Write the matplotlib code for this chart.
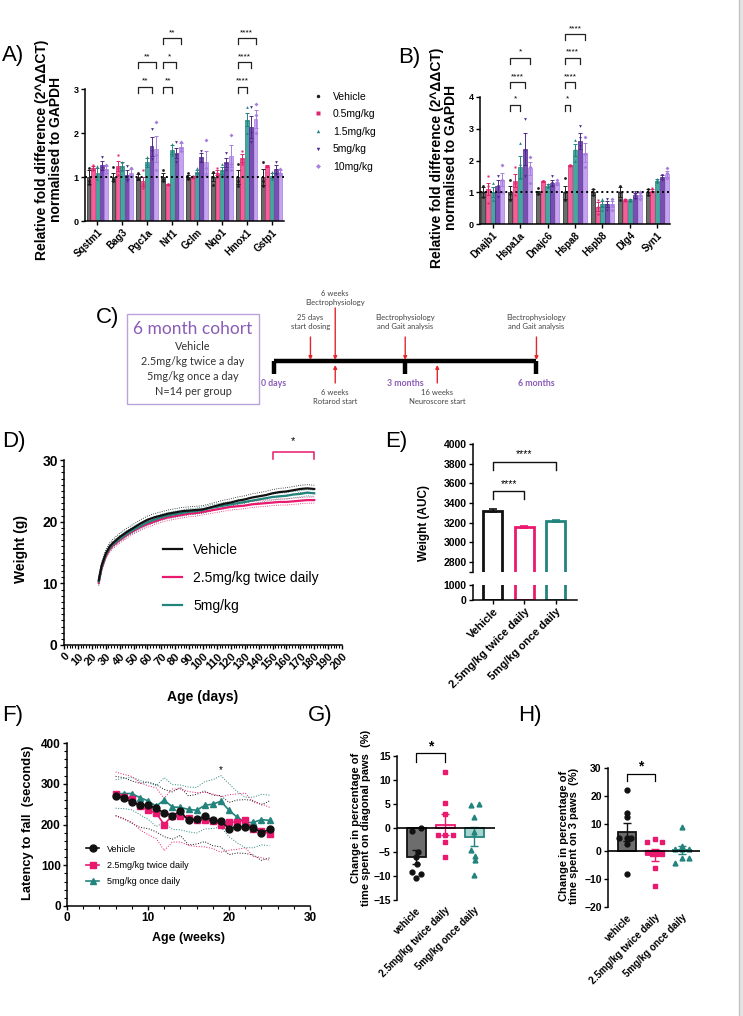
import numpy as np
import matplotlib
matplotlib.use('Agg')
import matplotlib.pyplot as plt
from matplotlib.lines import Line2D
from matplotlib.patches import Rectangle
from matplotlib.ticker import MultipleLocator

plt.rcParams['font.family'] = ['Liberation Sans', 'DejaVu Sans']
plt.rcParams['axes.linewidth'] = 1.1

# ---------------- data ----------------
doses = ['Vehicle', '0.5mg/kg', '1.5mg/kg', '5mg/kg', '10mg/kg']

genes_a = ['Sqstm1', 'Bag3', 'Pgc1a', 'Nrf1', 'Gclm', 'Nqo1', 'Hmox1', 'Gstp1']
a_means = [
    [1.0, 1.0, 1.0, 1.0, 1.0, 1.0, 1.0, 1.0],
    [1.21, 1.25, 0.9, 0.83, 1.0, 1.1, 1.43, 1.25],
    [1.1, 1.25, 1.33, 1.62, 1.12, 1.15, 2.3, 1.03],
    [1.27, 1.05, 1.7, 1.55, 1.45, 1.33, 2.13, 1.18],
    [1.18, 1.1, 1.63, 1.68, 1.35, 1.47, 2.32, 1.1],
]
a_sems = [
    [0.15, 0.1, 0.06, 0.08, 0.05, 0.1, 0.15, 0.18],
    [0.05, 0.12, 0.1, 0.02, 0.02, 0.05, 0.1, 0.02],
    [0.1, 0.1, 0.1, 0.1, 0.04, 0.08, 0.15, 0.06],
    [0.1, 0.1, 0.22, 0.12, 0.1, 0.1, 0.25, 0.1],
    [0.08, 0.08, 0.3, 0.1, 0.25, 0.25, 0.2, 0.05],
]
a_points = [
    [[1.2, 0.9, 0.85], [1.22, 0.95, 0.9], [1.1, 0.95, 0.95], [1.15, 0.95, 0.9],
     [1.1, 0.98, 0.95], [1.12, 1.0, 0.82], [1.3, 0.9, 0.8], [1.35, 0.9, 0.8]],
    [[1.27, 1.2, 1.15], [1.5, 1.2, 1.05], [1.15, 0.85, 0.75], [0.85, 0.84, 0.82],
     [1.02, 1.0, 0.98], [1.2, 1.1, 1.0], [1.6, 1.4, 1.3], [1.26, 1.25, 1.24]],
    [[1.25, 1.05, 0.95], [1.35, 1.25, 1.15], [1.45, 1.3, 1.25], [1.75, 1.6, 1.5],
     [1.2, 1.1, 1.05], [1.3, 1.15, 1.05], [2.6, 2.3, 2.0], [1.12, 1.0, 0.95]],
    [[1.45, 1.2, 1.15], [1.25, 1.0, 0.9], [2.1, 1.6, 1.4], [1.8, 1.5, 1.35],
     [1.6, 1.4, 1.35], [1.55, 1.3, 1.15], [2.6, 2.0, 1.8], [1.35, 1.15, 1.05]],
    [[1.28, 1.15, 1.1], [1.2, 1.05, 1.05], [2.25, 1.5, 1.15], [1.8, 1.65, 1.6],
     [1.85, 1.2, 1.05], [1.95, 1.3, 1.15], [2.65, 2.4, 2.0], [1.18, 1.1, 1.05]],
]
# (gene index, dose index, bracket level, label)
a_brackets = [(2, 3, 0, '**'), (2, 4, 1, '**'),
              (3, 2, 0, '**'), (3, 3, 1, '*'), (3, 4, 2, '**'),
              (6, 2, 0, '****'), (6, 3, 1, '****'), (6, 4, 2, '****')]
a_levels = [3.05, 3.61, 4.16]

genes_b = ['Dnajb1', 'Hspa1a', 'Dnajc6', 'Hspa8', 'Hspb8', 'Dlg4', 'Syn1']
b_means = [
    [1.0, 1.0, 1.0, 1.0, 1.0, 1.0, 1.0],
    [1.1, 1.37, 1.35, 1.85, 0.55, 0.75, 1.05],
    [1.0, 1.8, 1.2, 2.33, 0.63, 0.75, 1.37],
    [1.2, 2.37, 1.3, 2.62, 0.62, 0.9, 1.47],
    [1.4, 1.75, 1.28, 2.25, 0.62, 0.9, 1.57],
]
b_sems = [
    [0.15, 0.2, 0.05, 0.2, 0.1, 0.15, 0.1],
    [0.2, 0.2, 0.02, 0.02, 0.15, 0.03, 0.05],
    [0.15, 0.35, 0.05, 0.2, 0.1, 0.03, 0.05],
    [0.2, 0.5, 0.1, 0.25, 0.1, 0.07, 0.06],
    [0.2, 0.2, 0.05, 0.3, 0.1, 0.08, 0.1],
]
b_points = [
    [[1.2, 1.0, 0.85], [1.4, 0.95, 0.75], [1.12, 1.0, 0.95], [1.45, 1.0, 0.75],
     [1.1, 1.0, 0.9], [1.2, 1.0, 0.75], [1.1, 1.0, 0.9]],
    [[1.5, 1.2, 0.65], [1.8, 1.3, 0.9], [1.36, 1.35, 1.34], [1.87, 1.85, 1.83],
     [0.75, 0.55, 0.3], [0.78, 0.75, 0.72], [1.12, 1.05, 1.0]],
    [[1.3, 1.0, 0.75], [2.55, 1.9, 1.45], [1.25, 1.2, 1.15], [2.65, 2.35, 2.0],
     [0.8, 0.6, 0.45], [0.8, 0.75, 0.72], [1.42, 1.37, 1.32]],
    [[1.5, 1.2, 0.85], [3.3, 2.3, 1.5], [1.5, 1.3, 1.2], [3.1, 2.7, 2.45],
     [0.8, 0.6, 0.45], [1.0, 0.9, 0.8], [1.55, 1.45, 1.4]],
    [[1.85, 1.4, 1.0], [2.1, 1.8, 1.3], [1.38, 1.3, 1.25], [2.75, 2.2, 1.8],
     [0.8, 0.6, 0.45], [1.0, 0.9, 0.8], [1.75, 1.6, 1.45]],
]
b_brackets = [(1, 2, 0, '*'), (1, 3, 1, '****'), (1, 4, 2, '*'),
              (3, 1, 0, '*'), (3, 2, 1, '****'), (3, 3, 2, '****'), (3, 4, 3, '****')]
b_levels = [3.75, 4.47, 5.23, 5.98]

# C timeline (days)
milestones = [0, 90, 180]
milestone_labels = ['0 days', '3 months', '6 months']
events_above = [(25, '25 days\nstart dosing', 'short'), (42, '6 weeks\nElectrophysiology', 'long'),
                (90, 'Electrophysiology\nand Gait analysis', 'short'),
                (180, 'Electrophysiology\nand Gait analysis', 'short')]
events_below = [(42, '6 weeks\nRotarod start'), (112, '16 weeks\nNeuroscore start')]
cohort_lines = ['Vehicle', '2.5mg/kg twice a day', '5mg/kg once a day', 'N=14 per group']

# D body weight
days = [25, 27, 30, 33, 35, 40, 45, 50, 55, 60, 65, 70, 75, 80, 85, 90, 95, 100, 105,
        110, 115, 120, 125, 130, 135, 140, 145, 150, 155, 160, 165, 170, 175, 180]
weight_veh = [10.5, 12.8, 14.8, 16.0, 16.5, 17.5, 18.3, 19.0, 19.7, 20.3, 20.7, 21.0, 21.3, 21.5,
              21.7, 21.8, 21.9, 22.0, 22.3, 22.6, 22.9, 23.1, 23.4, 23.6, 23.9, 24.1, 24.3, 24.6,
              24.8, 24.9, 25.1, 25.3, 25.4, 25.3]
weight_25 = [10.1, 12.4, 14.4, 15.6, 16.1, 17.0, 17.8, 18.5, 19.1, 19.6, 20.0, 20.4, 20.7, 20.9,
             21.1, 21.3, 21.4, 21.6, 21.8, 22.0, 22.2, 22.4, 22.5, 22.6, 22.8, 22.9, 23.0, 23.1,
             23.2, 23.2, 23.3, 23.4, 23.5, 23.5]
weight_5 = [10.3, 12.6, 14.6, 15.8, 16.3, 17.2, 18.0, 18.7, 19.3, 19.9, 20.3, 20.7, 21.0, 21.2,
            21.4, 21.6, 21.7, 21.9, 22.2, 22.4, 22.6, 22.8, 23.0, 23.2, 23.4, 23.6, 23.8, 24.0,
            24.1, 24.2, 24.4, 24.5, 24.7, 24.6]
weight_sem = [0.6, 0.5, 0.5]
weight_labels = ['Vehicle', '2.5mg/kg twice daily', '5mg/kg']

# E AUC
groups = ['Vehicle', '2.5mg/kg twice daily', '5mg/kg once daily']
auc = [3320, 3155, 3215]
auc_sem = [15, 10, 10]

# F rotarod
weeks = list(range(6, 26))
rot_veh = [270, 265, 255, 247, 247, 240, 228, 222, 232, 210, 213, 220, 210, 208, 190, 195, 195, 192, 180, 188]
rot_25 = [275, 268, 262, 245, 235, 228, 200, 222, 222, 215, 212, 212, 208, 200, 205, 207, 210, 188, 185, 177]
rot_5 = [275, 276, 276, 266, 258, 245, 260, 243, 242, 237, 235, 247, 250, 257, 235, 218, 205, 205, 212, 210]
sd_veh = [48, 50, 52, 54, 57, 58, 58, 58, 59, 60, 61, 62, 62, 63, 64, 65, 66, 67, 68, 70]
sd_25 = [54, 55, 56, 58, 60, 62, 64, 65, 65, 66, 66, 67, 67, 68, 68, 68, 67, 66, 66, 65]
sd_5 = [35, 37, 40, 42, 45, 50, 55, 55, 55, 55, 56, 58, 60, 63, 65, 63, 62, 62, 62, 62]
rot_labels = ['Vehicle', '2.5mg/kg twice daily', '5mg/kg once daily']

# G diagonal paws
paw_groups = ['vehicle', '2.5mg/kg twice daily', '5mg/kg once daily']
diag_mean = [-6.0, 0.7, -1.8]
diag_sem = [1.4, 2.2, 2.0]
diag_y = [[-0.55, 0.1, -4.9, -6.1, -7.5, -9.1, -9.6, -10.5],
          [11.7, 5.2, 2.9, -1.4, -1.4, -1.5, -3.0, -6.1],
          [4.7, 4.9, 2.3, -0.8, -4.6, -5.8, -6.7, -9.8]]
diag_dx = [[-0.15, 0.16, 0.05, 0.0, 0.02, -0.15, 0.16, 0.0],
           [0.0, 0.0, 0.0, -0.26, 0.0, 0.28, 0.0, 0.0],
           [-0.12, 0.18, 0.0, 0.0, -0.12, 0.03, 0.03, 0.0]]

# H three paws
three_mean = [7.1, -1.3, 0.6]
three_sem = [3.2, 2.1, 1.4]
three_y = [[22.2, 13.7, 12.3, 4.7, 4.8, 4.7, 2.7, -8.2],
           [3.5, 4.3, 3.3, -0.1, -1.0, -1.0, -1.0, -5.9, -12.4],
           [8.9, 2.0, 0.8, 0.8, 0.8, -4.0, -2.5, -2.5]]
three_dx = [[0.0, 0.0, 0.0, -0.3, 0.0, 0.16, 0.0, 0.0],
            [-0.27, 0.0, 0.26, -0.27, -0.09, 0.1, 0.27, 0.0, 0.0],
            [0.0, 0.0, -0.24, 0.0, 0.24, -0.24, 0.0, 0.24]]

# ---------------- styles ----------------
dose_fill = ['#6b6b6b', '#f2609a', '#45a8a0', '#7a4cb4', '#c6a3ef']
dose_edge = ['#1e1e1e', '#e0236d', '#23847d', '#4e2a8a', '#a77ee0']
dose_mark = ['o', 's', '^', 'v', 'D']
grp_col = ['#111111', '#e8196e', '#23847d']
grp_fill = ['#6d6d6d', '#fbd3e2', '#a7d3cf']
grp_mark = ['o', 's', '^']
purple = '#8a5cb7'
red = '#e3262e'
step = 0.178

W, H = 743, 1016
fig = plt.figure(figsize=(W / 100, H / 100), dpi=100)


def add_ax(l, t, r, b):
    return fig.add_axes([l / W, 1 - b / H, (r - l) / W, (b - t) / H])


def ftext(x, y, s, **kw):
    fig.text(x / W, 1 - y / H, s, **kw)


def clean(ax, fs=7, bottom=True):
    ax.spines['top'].set_visible(False)
    ax.spines['right'].set_visible(False)
    if not bottom:
        ax.spines['bottom'].set_visible(False)
    ax.tick_params(direction='out', length=3, width=1, labelsize=fs, pad=1.5)
    for lbl in ax.get_xticklabels() + ax.get_yticklabels():
        lbl.set_fontweight('bold')


# overlay for the schematic and page edge
ov = fig.add_axes([0, 0, 1, 1])
ov.set_xlim(0, W)
ov.set_ylim(H, 0)
ov.axis('off')
ov.add_patch(Rectangle((739, 0), 4, H, color='#e4e4e4', lw=0))
ov.plot([739, 739], [0, H], color='#c4c4c4', lw=1)


# ---------------- A / B ----------------
def qpcr(ax, genes, means, sems, pts, brackets, levels, leg):
    for k in range(5):
        xs = np.arange(len(genes)) + (k - 2) * step
        ax.bar(xs, means[k], width=0.15, color=dose_fill[k], edgecolor=dose_edge[k],
               linewidth=0.5, zorder=2)
        ax.errorbar(xs, means[k], yerr=sems[k], fmt='none', ecolor=dose_edge[k],
                    elinewidth=0.7, capsize=1.2, capthick=0.7, zorder=3)
        for gi, vals in enumerate(pts[k]):
            ax.plot([xs[gi]] * len(vals), vals, ls='none', marker=dose_mark[k], ms=2,
                    mfc=dose_edge[k], mec='none', zorder=4)
    ax.axhline(1, color='black', ls=(0, (1, 1.6)), lw=1.4, zorder=5)
    for gi, k, lev, lab in brackets:
        x0 = gi - 2 * step
        x1 = gi + (k - 2) * step
        y = levels[lev]
        ax.plot([x0, x0, x1, x1], [y - leg, y, y, y - leg], color='#222222', lw=0.9,
                clip_on=False)
        ax.text((x0 + x1) / 2, y + leg * 0.35, lab, ha='center', va='bottom', fontsize=6,
                clip_on=False)
    ax.set_xticks(np.arange(len(genes)))
    ax.set_xticklabels(genes, rotation=45, ha='right', rotation_mode='anchor')
    clean(ax, fs=6.5)
    for lbl in ax.get_xticklabels():
        lbl.set_fontsize(7)


ax_a = add_ax(85, 89, 284, 221)
ax_a.set_xlim(-0.5, 7.5)
ax_a.set_ylim(0, 3)
ax_a.set_yticks([0, 1, 2, 3])
qpcr(ax_a, genes_a, a_means, a_sems, a_points, a_brackets, a_levels, 0.13)

ax_b = add_ax(480, 97, 670, 224)
ax_b.set_xlim(-0.46, 6.46)
ax_b.set_ylim(0, 4)
ax_b.set_yticks([0, 1, 2, 3, 4])
qpcr(ax_b, genes_b, b_means, b_sems, b_points, b_brackets, b_levels, 0.19)

ylab_ab = 'Relative fold difference (2^ΔΔCT)\nnormalised to GAPDH'
ftext(49, 150, ylab_ab, rotation=90, ha='center', va='center', fontsize=10,
      fontweight='bold', linespacing=1.05)
ftext(444, 158, ylab_ab, rotation=90, ha='center', va='center', fontsize=10,
      fontweight='bold', linespacing=1.05)

handles = [Line2D([], [], ls='none', marker=dose_mark[k], ms=2.5, mfc=dose_edge[k], mec='none')
           for k in range(5)]
ax_a.legend(handles, doses, loc='upper left', bbox_to_anchor=(312.8 / W, 1 - 91.5 / H),
            bbox_transform=fig.transFigure, frameon=False, fontsize=7.5, handlelength=1.0,
            handletextpad=0.94, labelspacing=0.73, borderpad=0, borderaxespad=0)

# ---------------- C ----------------
def day2px(d):
    return 274 + d * 1.458


cfont = ['Lato', 'DejaVu Sans']
ov.add_patch(Rectangle((127, 314), 132, 90, fill=False, edgecolor='#b9a3d9', lw=1))
ov.text(193, 329, '6 month cohort', ha='center', va='center', fontsize=12.5,
        color=purple, family=cfont)
for i, line in enumerate(cohort_lines):
    ov.text(193, 347 + i * 14.7, line, ha='center', va='center', fontsize=7.8,
            color='#333333', family=cfont)

ov.plot([day2px(0), day2px(180)], [361, 361], color='black', lw=3.2, solid_capstyle='butt')
for d, lab in zip(milestones, milestone_labels):
    ov.plot([day2px(d), day2px(d)], [361, 374], color='black', lw=3.2, solid_capstyle='butt')
    ov.text(day2px(d), 384, lab, ha='center', va='center', fontsize=6.3, color=purple,
            fontweight='bold', family=cfont)
for d, lab, kind in events_above:
    y0 = 308 if kind == 'long' else 337
    ov.annotate('', xy=(day2px(d), 360), xytext=(day2px(d), y0),
                arrowprops=dict(arrowstyle='-|>', color=red, lw=1, mutation_scale=5,
                                shrinkA=0, shrinkB=0))
    yt = 298 if kind == 'long' else 322
    ov.text(day2px(d), yt, lab, ha='center', va='center', fontsize=5.5, color='#444444',
            family=cfont, linespacing=1.2)
for d, lab in events_below:
    ov.annotate('', xy=(day2px(d), 365), xytext=(day2px(d), 383),
                arrowprops=dict(arrowstyle='-|>', color=red, lw=1, mutation_scale=5,
                                shrinkA=0, shrinkB=0))
    ov.text(day2px(d), 397, lab, ha='center', va='center', fontsize=5.5, color='#444444',
            family=cfont, linespacing=1.3)

# ---------------- D ----------------
ax_d = add_ax(64, 460, 342, 645)
d_series = [weight_veh, weight_25, weight_5]
for idx in [1, 2, 0]:
    w = np.array(d_series[idx])
    ax_d.plot(days, w + weight_sem[idx], ls=':', color=grp_col[idx], lw=0.6)
    ax_d.plot(days, w - weight_sem[idx], ls=':', color=grp_col[idx], lw=0.6)
lines_d = []
for idx in [1, 2, 0]:
    ln, = ax_d.plot(days, d_series[idx], color=grp_col[idx], lw=1.6)
    lines_d.append((idx, ln))
lines_d = [ln for idx, ln in sorted(lines_d)]
ax_d.set_xlim(0, 200)
ax_d.set_ylim(0, 30)
ax_d.set_xticks(range(0, 201, 10))
ax_d.xaxis.set_minor_locator(MultipleLocator(2))
ax_d.yaxis.set_minor_locator(MultipleLocator(1))
ax_d.set_yticks([0, 10, 20, 30])
ax_d.set_xticklabels([str(v) for v in range(0, 201, 10)], rotation=45, ha='right',
                     rotation_mode='anchor')
clean(ax_d, fs=10)
ax_d.tick_params(which='minor', length=2, width=0.8)
for lbl in ax_d.get_xticklabels():
    lbl.set_fontsize(8)
ax_d.plot([150, 150, 180, 180], [30.1, 31.3, 31.3, 30.1], color=grp_col[1], lw=1.1,
          clip_on=False)
ax_d.text(165, 32.2, '*', ha='center', va='bottom', fontsize=8, clip_on=False)
ax_d.legend(lines_d, weight_labels, loc='upper left', bbox_to_anchor=(163 / W, 1 - 543 / H),
            bbox_transform=fig.transFigure, frameon=False, fontsize=10, handlelength=1.37,
            handletextpad=0.8, labelspacing=1.0, borderpad=0, borderaxespad=0)
ftext(21, 549, 'Weight (g)', rotation=90, ha='center', va='center', fontsize=10,
      fontweight='bold')
ftext(203, 697, 'Age (days)', ha='center', va='center', fontsize=10, fontweight='bold')

# ---------------- E ----------------
ax_et = add_ax(473, 444, 577, 572)
ax_eb = add_ax(473, 585, 577, 600)
for ax in (ax_et, ax_eb):
    ax.bar(range(3), auc, width=0.6, fill=False, edgecolor=grp_col, linewidth=2)
    ax.set_xlim(-0.63, 2.67)
for i in range(3):
    ax_et.errorbar(i, auc[i], yerr=auc_sem[i], fmt='none', ecolor=grp_col[i], capsize=3,
                   elinewidth=1.2, capthick=1.2)
ax_et.set_ylim(2700, 4000)
ax_et.set_yticks([2700, 2800, 3000, 3200, 3400, 3600, 3800, 4000])
ax_et.set_yticklabels(['', '2800', '3000', '3200', '3400', '3600', '3800', '4000'])
ax_et.set_xticks([])
clean(ax_et, fs=7.5, bottom=False)
ax_eb.set_ylim(0, 1000)
ax_eb.set_yticks([0, 1000])
ax_eb.set_xticks(range(3))
ax_eb.set_xticklabels(groups, rotation=45, ha='right', rotation_mode='anchor')
clean(ax_eb, fs=7.5)
for lbl in ax_eb.get_xticklabels():
    lbl.set_fontsize(8)
for x1, yb, lab in [(1, 3520, '****'), (2, 3820, '****')]:
    ax_et.plot([0, 0, x1, x1], [yb - 80, yb, yb, yb - 80], color='#111111', lw=1,
               clip_on=False)
    ax_et.text(x1 / 2, yb + 25, lab, ha='center', va='bottom', fontsize=7.5, clip_on=False)
ftext(424, 523, 'Weight (AUC)', rotation=90, ha='center', va='center', fontsize=8.5,
      fontweight='bold')

# ---------------- F ----------------
ax_f = add_ax(67, 743, 310, 906)
f_series = [rot_veh, rot_25, rot_5]
f_sd = [sd_veh, sd_25, sd_5]
for idx in range(3):
    m = np.array(f_series[idx])
    s = np.array(f_sd[idx])
    ax_f.plot(weeks, m + s, ls=':', color=grp_col[idx], lw=0.7)
    ax_f.plot(weeks, m - s, ls=':', color=grp_col[idx], lw=0.7)
f_handles = []
for idx in [2, 1, 0]:
    ln, = ax_f.plot(weeks, f_series[idx], color=grp_col[idx], marker=grp_mark[idx], ms=5,
                    lw=1.2, mec=grp_col[idx])
    f_handles.append(ln)
f_handles = f_handles[::-1]
ax_f.set_xlim(0, 30)
ax_f.set_ylim(0, 400)
ax_f.set_xticks([0, 10, 20, 30])
ax_f.set_yticks([0, 100, 200, 300, 400])
ax_f.xaxis.set_minor_locator(MultipleLocator(2))
ax_f.yaxis.set_minor_locator(MultipleLocator(20))
clean(ax_f, fs=8.5)
ax_f.tick_params(which='minor', length=2, width=0.8)
ax_f.text(19, 322, '*', ha='center', va='bottom', fontsize=7)
ax_f.legend(f_handles, rot_labels, loc='upper left', bbox_to_anchor=(86 / W, 1 - 844.5 / H),
            bbox_transform=fig.transFigure, frameon=False, fontsize=6.5, handlelength=1.45,
            handletextpad=0.9, labelspacing=0.83, borderpad=0, borderaxespad=0, numpoints=1)
ftext(28, 823, 'Latency to fall  (seconds)', rotation=90, ha='center', va='center',
      fontsize=9.3, fontweight='bold')
ftext(188, 938, 'Age (weeks)', ha='center', va='center', fontsize=9, fontweight='bold')


# ---------------- G / H ----------------
def paw_panel(ax, means, sems, ys, dxs, ylim, yticks, brk):
    x = np.arange(3)
    ax.bar(x, means, width=0.65, color=grp_fill, edgecolor=grp_col, linewidth=1.3, zorder=2)
    for i in range(3):
        ax.errorbar(i, means[i], yerr=sems[i], fmt='none', ecolor=grp_col[i], elinewidth=1,
                    capsize=3, capthick=1, zorder=3)
        ax.plot(np.array(dxs[i]) + i, ys[i], ls='none', marker=grp_mark[i], ms=3.5,
                color=grp_col[i], zorder=4)
    ax.axhline(0, color='black', lw=1.2, zorder=5)
    ax.set_ylim(*ylim)
    ax.set_yticks(yticks)
    ax.set_xticks(x)
    ax.set_xticklabels(paw_groups, rotation=45, ha='right', rotation_mode='anchor')
    clean(ax, fs=7.5, bottom=False)
    ax.tick_params(axis='x', length=0, pad=4)
    for lbl in ax.get_xticklabels():
        lbl.set_fontsize(7)
    top, leg, sy = brk
    ax.plot([0, 0, 1, 1], [top - leg, top, top, top - leg], color='black', lw=0.9, clip_on=False)
    ax.text(0.5, sy, '*', ha='center', va='center', fontsize=10, fontweight='bold', clip_on=False)


ax_g = add_ax(397, 756, 495, 900)
ax_g.set_xlim(-0.66, 2.72)
paw_panel(ax_g, diag_mean, diag_sem, diag_y, diag_dx, (-15, 15),
          [-15, -10, -5, 0, 5, 10, 15], (15.6, 1.8, 17.0))
ftext(361, 818, 'Change in percentage of\ntime spent on diagonal paws  (%)', rotation=90,
      ha='center', va='center', fontsize=8, fontweight='bold', linespacing=1.05)

ax_h = add_ax(608, 768, 700, 907)
ax_h.set_xlim(-0.69, 2.65)
paw_panel(ax_h, three_mean, three_sem, three_y, three_dx, (-20, 30),
          [-20, -10, 0, 10, 20, 30], (28.0, 2.6, 30.5))
ftext(569, 836, 'Change in percentage of\ntime spent on 3 paws  (%)', rotation=90,
      ha='center', va='center', fontsize=8, fontweight='bold', linespacing=1.05)

# ---------------- panel letters ----------------
for lab, x, y in [('A)', 2, 56), ('B)', 398, 58), ('C)', 96, 318), ('D)', 2, 441),
                  ('E)', 385, 441), ('F)', 2, 715), ('G)', 308, 715), ('H)', 518, 716)]:
    ftext(x, y, lab, ha='left', va='center', fontsize=16)

fig.savefig('out.png', dpi=100)
